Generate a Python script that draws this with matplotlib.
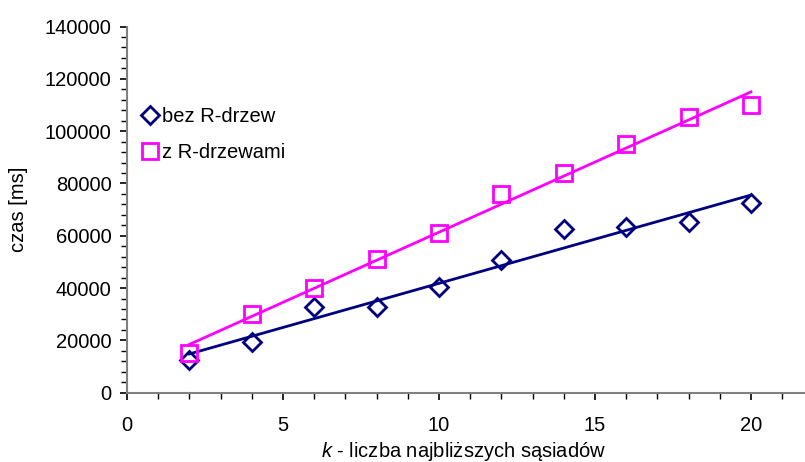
import numpy as np
import matplotlib
matplotlib.use("Agg")
import matplotlib.pyplot as plt
from matplotlib.ticker import MultipleLocator

plt.rcParams['font.family'] = ['Liberation Sans', 'DejaVu Sans']
plt.rcParams['mathtext.fontset'] = 'custom'
plt.rcParams['mathtext.it'] = 'Liberation Sans:italic'
plt.rcParams['mathtext.rm'] = 'Liberation Sans'

# data
k = [2, 4, 6, 8, 10, 12, 14, 16, 18, 20]
bez_r_drzew = [12500, 19300, 32700, 32700, 40500, 50700, 62500, 63500, 65200, 72400]
z_r_drzewami = [15100, 30100, 39900, 51000, 61000, 76000, 83900, 95100, 105300, 110000]

NAVY = '#000080'
MAGENTA = '#FF00FF'
AXIS_GRAY = '#808080'
FS = 14.5

fig = plt.figure(figsize=(8.05, 4.62), dpi=100)
ax = fig.add_axes([127 / 805, 0.150, 686.4 / 805, 0.7925])

# linear trend lines (like Excel)
x = np.array(k, dtype=float)
for vals, col in [(bez_r_drzew, NAVY), (z_r_drzewami, MAGENTA)]:
    z = np.polyfit(x, vals, 1)
    ax.plot([x[0], x[-1]], np.polyval(z, [x[0], x[-1]]), color=col, lw=2, zorder=2)

ax.plot(k, bez_r_drzew, linestyle='none', marker='D', markersize=9,
        markerfacecolor='none', markeredgecolor=NAVY, markeredgewidth=2,
        label='bez R-drzew', zorder=3)
ax.plot(k, z_r_drzewami, linestyle='none', marker='s', markersize=11,
        markerfacecolor='none', markeredgecolor=MAGENTA, markeredgewidth=2,
        label='z R-drzewami', zorder=3)

ax.set_xlim(0, 22)
ax.set_ylim(0, 140000)
ax.xaxis.set_major_locator(MultipleLocator(5))
ax.xaxis.set_minor_locator(MultipleLocator(1))
ax.yaxis.set_major_locator(MultipleLocator(20000))
ax.yaxis.set_minor_locator(MultipleLocator(4000))

for side in ['top', 'right']:
    ax.spines[side].set_visible(False)
for side in ['left', 'bottom']:
    ax.spines[side].set_color(AXIS_GRAY)
    ax.spines[side].set_linewidth(1.5)

ax.tick_params(axis='both', which='major', direction='out', length=5,
               width=1.2, color='black', labelsize=FS, pad=6)
ax.tick_params(axis='both', which='minor', direction='out', length=4,
               width=1, color='black')
ax.tick_params(axis='x', which='major', pad=12)

ax.set_ylabel('czas [ms]', fontsize=FS)
ax.yaxis.set_label_coords(-0.144, 0.5)
ax.set_xlabel(r'$\it{k}$ - liczba najbliższych sąsiadów', fontsize=FS)
ax.xaxis.set_label_coords(0.49, -0.128)

ax.legend(loc='upper left', bbox_to_anchor=(0.022, 0.781), frameon=False,
          fontsize=FS, handlelength=0.8, handletextpad=0.2,
          labelspacing=0.85, borderaxespad=0, borderpad=0)

fig.savefig('out.png', dpi=100)
